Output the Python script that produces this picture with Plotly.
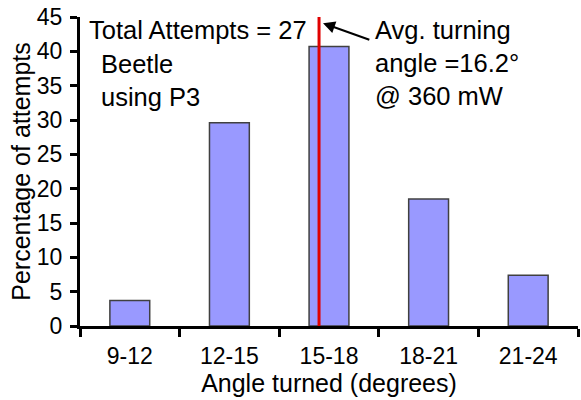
import plotly.graph_objects as go

# Histogram of turning angles (27 attempts)
angle_bins = ["9-12", "12-15", "15-18", "18-21", "21-24"]
percent_attempts = [3.7, 29.6, 40.7, 18.5, 7.4]
bin_edges_low = [9, 12, 15, 18, 21]
bin_span = 3
avg_angle = 16.2
y_ticks = [0, 5, 10, 15, 20, 25, 30, 35, 40, 45]

FONT = "Arial, Liberation Sans, sans-serif"

# position of the average angle on the category axis
i_bin = max(i for i, lo in enumerate(bin_edges_low) if lo <= avg_angle)
avg_x = i_bin - 0.5 + (avg_angle - bin_edges_low[i_bin]) / bin_span

fig = go.Figure()
fig.add_trace(go.Bar(
    x=angle_bins, y=percent_attempts, width=0.4,
    marker=dict(color="#9999FF", line=dict(color="#404040", width=1.5)),
))

# average line
fig.add_shape(type="line", x0=avg_x, x1=avg_x, y0=0, y1=45,
              xref="x", yref="y", line=dict(color="#E00000", width=3))

fig.add_annotation(x=-0.43, y=43.1, text="Total Attempts = 27", showarrow=False,
                   xanchor="left", yanchor="middle", font=dict(size=25.5))
fig.add_annotation(x=-0.31, y=35.7, text="Beetle<br>using P3", showarrow=False,
                   xanchor="left", yanchor="middle", align="left", font=dict(size=25.5))
fig.add_annotation(x=2.44, y=38.3, text="Avg. turning<br>angle =16.2°<br>@ 360 mW",
                   showarrow=False, xanchor="left", yanchor="middle", align="left",
                   font=dict(size=25.5))
# arrow pointing at the average line
fig.add_annotation(x=avg_x + 0.04, y=44.1, ax=2.42, ay=41.6, axref="x", ayref="y",
                   xref="x", yref="y", text="", showarrow=True,
                   arrowhead=2, arrowsize=1.2, arrowwidth=2, arrowcolor="black")

fig.update_layout(
    width=581, height=400,
    margin=dict(l=80, r=3, t=17, b=74),
    paper_bgcolor="white", plot_bgcolor="white",
    font=dict(family=FONT, color="black"),
    showlegend=False,
    bargap=0.6,
)
fig.update_xaxes(
    type="category", range=[-0.5, 4.5], tickson="boundaries",
    showline=True, linecolor="black", linewidth=3,
    ticks="outside", ticklen=8, tickwidth=3, tickcolor="black",
    tickfont=dict(size=23), ticklabelstandoff=7, showgrid=False, zeroline=False,
    title=dict(text="Angle turned (degrees)", font=dict(size=25), standoff=3),
)
fig.update_yaxes(
    range=[0, 45], tickvals=y_ticks,
    showline=True, linecolor="black", linewidth=3,
    ticks="outside", ticklen=7, tickwidth=3, tickcolor="black",
    tickfont=dict(size=23), ticklabelstandoff=3, showgrid=False, zeroline=False,
    title=dict(text="Percentage of attempts", font=dict(size=25), standoff=0),
)

fig.write_html("out.html")
